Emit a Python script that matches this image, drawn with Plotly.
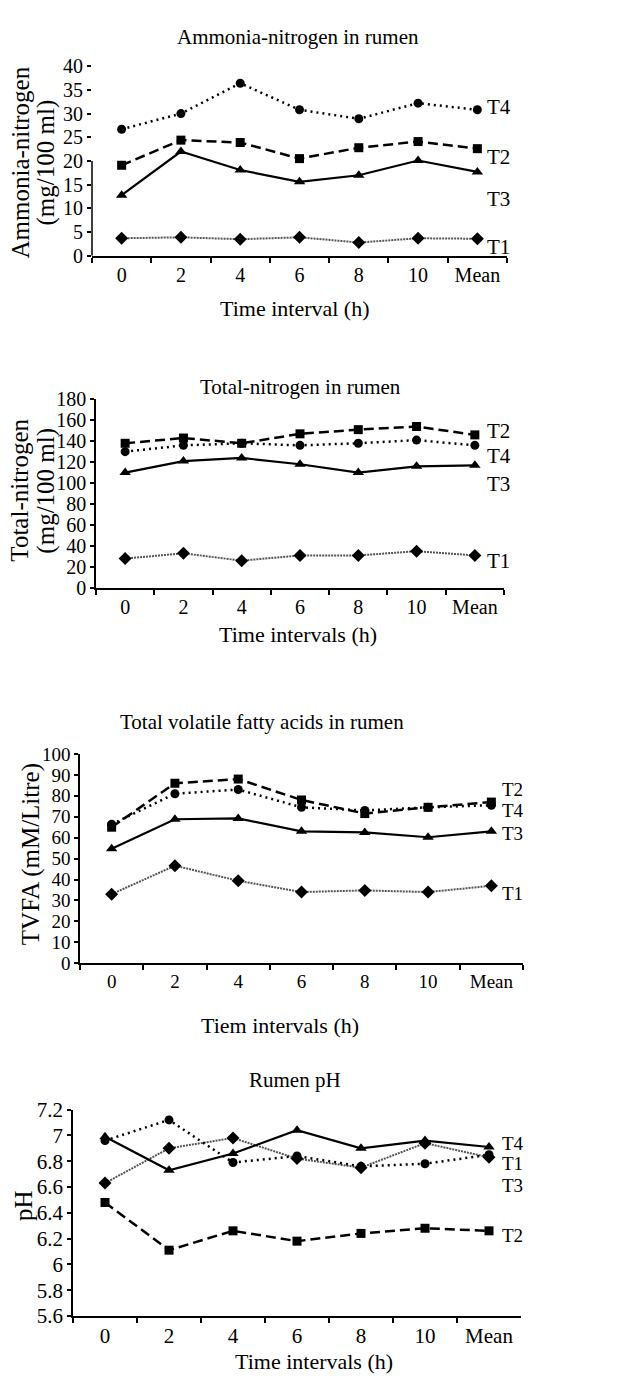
import plotly.graph_objects as go

# The page keeps the browser's default 8px body margin, so the figure is
# sized to fill exactly the 644x1389 window from (8, 8).
PAGE_W, PAGE_H = 644, 1389
OFF = 8
W, H = PAGE_W - OFF, PAGE_H - 2 * OFF

# ---------------- data ----------------
times = ["0", "2", "4", "6", "8", "10", "Mean"]
treatments = ["T1", "T2", "T3", "T4"]

nh3_T1 = [3.7, 3.9, 3.5, 3.9, 2.8, 3.7, 3.6]
nh3_T2 = [19.1, 24.4, 23.9, 20.5, 22.8, 24.1, 22.6]
nh3_T3 = [12.8, 22.0, 18.1, 15.6, 17.0, 20.1, 17.7]
nh3_T4 = [26.7, 30.0, 36.4, 30.8, 28.9, 32.2, 30.8]

tn_T1 = [28, 33, 26, 31, 31, 35, 31]
tn_T2 = [138, 143, 138, 147, 151, 154, 146]
tn_T3 = [110, 121, 124, 118, 110, 116, 117]
tn_T4 = [130, 136, 138, 136, 138, 141, 136]

tvfa_T1 = [33.0, 46.6, 39.4, 34.0, 34.8, 34.0, 37.0]
tvfa_T2 = [65.0, 86.0, 88.0, 78.0, 71.5, 74.5, 77.0]
tvfa_T3 = [54.7, 68.8, 69.2, 63.0, 62.5, 60.2, 63.0]
tvfa_T4 = [66.4, 81.0, 83.0, 74.5, 73.0, 74.5, 75.5]

ph_T1 = [6.63, 6.90, 6.98, 6.82, 6.75, 6.94, 6.83]
ph_T2 = [6.48, 6.11, 6.26, 6.18, 6.24, 6.28, 6.26]
ph_T3 = [6.99, 6.73, 6.86, 7.04, 6.90, 6.96, 6.91]
ph_T4 = [6.96, 7.12, 6.79, 6.84, 6.76, 6.78, 6.85]

nh3_ticks = [0, 5, 10, 15, 20, 25, 30, 35, 40]
tn_ticks = [0, 20, 40, 60, 80, 100, 120, 140, 160, 180]
tvfa_ticks = [0, 10, 20, 30, 40, 50, 60, 70, 80, 90, 100]
ph_ticks = [5.6, 5.8, 6.0, 6.2, 6.4, 6.6, 6.8, 7.0, 7.2]
ph_ticktext = ["5.6", "5.8", "6", "6.2", "6.4", "6.6", "6.8", "7", "7.2"]

FONT = "Liberation Serif, Times New Roman, serif"

styles = {
    "T1": dict(line=dict(color="#555555", width=2, dash="2px,1px"),
               marker=dict(symbol="diamond", size=10, color="black")),
    "T2": dict(line=dict(color="black", width=2.5, dash="10px,5px"),
               marker=dict(symbol="square", size=9, color="black")),
    "T3": dict(line=dict(color="black", width=2.2),
               marker=dict(symbol="triangle-up", size=10, color="black")),
    "T4": dict(line=dict(color="black", width=2.5, dash="2px,4px"),
               marker=dict(symbol="circle", size=9, color="black")),
}


def px_x(p):
    return (p - OFF) / W


def px_y(p):
    return 1 - (p - OFF) / H


panels = [
    dict(series={"T1": nh3_T1, "T2": nh3_T2, "T3": nh3_T3, "T4": nh3_T4},
         xdom=(92, 507), ydom=(55, 248), yrange=[0, 40], tickvals=nh3_ticks,
         ticktext=[str(v) for v in nh3_ticks], tickfont=20,
         title="Ammonia-nitrogen in rumen", title_xy=(298, 25),
         xtitle="Time interval (h)", xtitle_xy=(295, 302),
         ytitles=[("Ammonia-nitrogen", 20), ("(mg/100 ml)", 46)], ytitle_y=153,
         labels=[("T4", 97), ("T2", 147), ("T3", 190), ("T1", 239)], label_x=485),
    dict(series={"T1": tn_T1, "T2": tn_T2, "T3": tn_T3, "T4": tn_T4},
         xdom=(96, 504), ydom=(394, 586), yrange=[0, 180], tickvals=tn_ticks,
         ticktext=[str(v) for v in tn_ticks], tickfont=20,
         title="Total-nitrogen in rumen", title_xy=(300, 382),
         xtitle="Time intervals (h)", xtitle_xy=(298, 633),
         ytitles=[("Total-nitrogen", 20), ("(mg/100 ml)", 46)], ytitle_y=487,
         labels=[("T2", 426), ("T4", 452), ("T3", 480), ("T1", 559)], label_x=485),
    dict(series={"T1": tvfa_T1, "T2": tvfa_T2, "T3": tvfa_T3, "T4": tvfa_T4},
         xdom=(80, 523), ydom=(755, 968), yrange=[0, 100], tickvals=tvfa_ticks,
         ticktext=[str(v) for v in tvfa_ticks], tickfont=19,
         title="Total volatile fatty acids in rumen", title_xy=(262, 722),
         xtitle="Tiem intervals (h)", xtitle_xy=(280, 1031),
         ytitles=[("TVFA (mM/Litre)", 31)], ytitle_y=857,
         labels=[("T2", 791), ("T4", 813), ("T3", 836), ("T1", 897)], label_x=500),
    dict(series={"T1": ph_T1, "T2": ph_T2, "T3": ph_T3, "T4": ph_T4},
         xdom=(73, 521), ydom=(1117, 1327), yrange=[5.6, 7.2], tickvals=ph_ticks,
         ticktext=ph_ticktext, tickfont=21,
         title="Rumen pH", title_xy=(295, 1087),
         xtitle="Time intervals (h)", xtitle_xy=(314, 1373),
         ytitles=[("pH", 24)], ytitle_y=1215,
         labels=[("T4", 1151), ("T1", 1172), ("T3", 1194), ("T2", 1245)], label_x=500),
]

fig = go.Figure()
annotations = []
shapes = []
draw_order = ["T1", "T4", "T2", "T3"]

for i, p in enumerate(panels, start=1):
    xa = "x" if i == 1 else f"x{i}"
    ya = "y" if i == 1 else f"y{i}"
    for t in draw_order:
        fig.add_trace(go.Scatter(
            x=times, y=p["series"][t], mode="lines+markers", name=t,
            xaxis=xa, yaxis=ya, showlegend=False, cliponaxis=False,
            line=styles[t]["line"], marker=styles[t]["marker"]))

    xkey = "xaxis" if i == 1 else f"xaxis{i}"
    ykey = "yaxis" if i == 1 else f"yaxis{i}"
    fig.update_layout(**{
        xkey: dict(domain=[px_x(p["xdom"][0]), px_x(p["xdom"][1])],
                   anchor=ya, type="category", categoryorder="array",
                   categoryarray=times, range=[-0.5, 6.5],
                   showline=True, linecolor="black", linewidth=2,
                   ticks="outside", tickson="boundaries", ticklen=5,
                   tickwidth=1.5, tickcolor="black", showgrid=False,
                   zeroline=False,
                   tickfont=dict(family=FONT, size=p["tickfont"], color="black")),
        ykey: dict(domain=[px_y(p["ydom"][1]), px_y(p["ydom"][0])],
                   anchor=xa, range=p["yrange"], tickmode="array",
                   tickvals=p["tickvals"], ticktext=p["ticktext"],
                   showline=(i != 1), linecolor="black", linewidth=1.5,
                   ticks="outside", ticklen=4, tickwidth=1.5, tickcolor="black",
                   showgrid=False, zeroline=False,
                   tickfont=dict(family=FONT, size=p["tickfont"], color="black")),
    })

    if i == 1:
        # the y-axis line of the first panel is only drawn up to 20
        shapes.append(dict(type="line", xref="x domain", yref="y",
                           x0=0, x1=0, y0=0, y1=20,
                           line=dict(color="black", width=1.5)))

    annotations.append(dict(text=p["title"], xref="paper", yref="paper",
                            x=px_x(p["title_xy"][0]), y=px_y(p["title_xy"][1]),
                            xanchor="center", yanchor="middle", showarrow=False,
                            font=dict(family=FONT, size=21, color="black")))
    annotations.append(dict(text=p["xtitle"], xref="paper", yref="paper",
                            x=px_x(p["xtitle_xy"][0]), y=px_y(p["xtitle_xy"][1]),
                            xanchor="center", yanchor="middle", showarrow=False,
                            font=dict(family=FONT, size=22, color="black")))
    for txt, xx in p["ytitles"]:
        annotations.append(dict(text=txt, xref="paper", yref="paper",
                                x=px_x(xx), y=px_y(p["ytitle_y"]),
                                xanchor="center", yanchor="middle",
                                textangle=-90, showarrow=False,
                                font=dict(family=FONT, size=25, color="black")))
    lsize = 21 if i <= 2 else 19
    for txt, yy in p["labels"]:
        annotations.append(dict(text=txt, xref="paper", yref="paper",
                                x=px_x(p["label_x"]), y=px_y(yy),
                                xanchor="left", yanchor="middle", showarrow=False,
                                font=dict(family=FONT, size=lsize, color="black")))

fig.update_layout(width=W, height=H, margin=dict(l=0, r=0, t=0, b=0),
                  paper_bgcolor="white", plot_bgcolor="white",
                  annotations=annotations, shapes=shapes,
                  font=dict(family=FONT, color="black"))

fig.write_html("out.html", config={"displayModeBar": False})
